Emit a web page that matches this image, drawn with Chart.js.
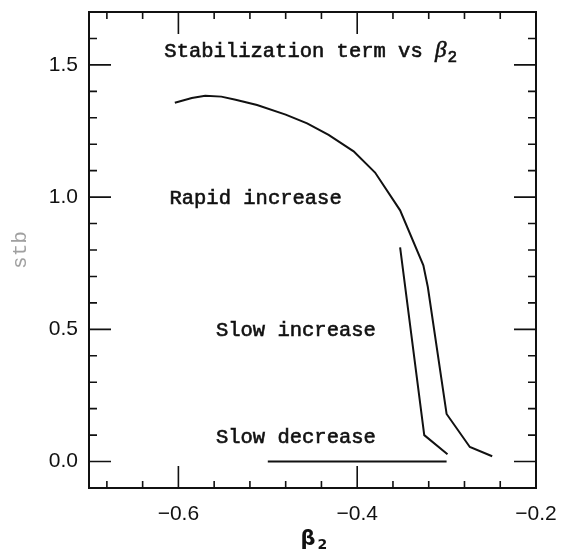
<!DOCTYPE html>
<html>
<head>
<meta charset="utf-8">
<script src="https://cdn.jsdelivr.net/npm/chart.js@4.4.1/dist/chart.umd.min.js"></script>
<style>
  html, body { margin: 0; padding: 0; background: #fff; }
  #wrap { width: 562px; height: 551px; position: relative; }
</style>
</head>
<body>
<div id="wrap"><canvas id="c" width="562" height="551"></canvas></div>
<script>
// stabilization term vs beta2 — three branches
const RAPID_X = [-0.604, -0.585, -0.570, -0.552, -0.536, -0.512, -0.480, -0.456, -0.432, -0.404, -0.380, -0.352, -0.326, -0.321, -0.300, -0.274, -0.249];
const RAPID_Y = [1.357, 1.375, 1.383, 1.380, 1.368, 1.348, 1.312, 1.279, 1.235, 1.173, 1.093, 0.950, 0.742, 0.660, 0.180, 0.055, 0.020];
const SLOW_INC_X = [-0.352, -0.325, -0.299];
const SLOW_INC_Y = [0.810, 0.100, 0.028];
const SLOW_DEC_X = [-0.500, -0.300];
const SLOW_DEC_Y = [0.000, 0.000];

const X_TICKS = [-0.68, -0.64, -0.6, -0.56, -0.52, -0.48, -0.44, -0.4, -0.36, -0.32, -0.28, -0.24, -0.2];
const X_LABELED = [-0.6, -0.4, -0.2];
const Y_TICKS = [0, 0.1, 0.2, 0.3, 0.4, 0.5, 0.6, 0.7, 0.8, 0.9, 1.0, 1.1, 1.2, 1.3, 1.4, 1.5, 1.6];
const Y_LABELED = [0, 0.5, 1.0, 1.5];

// in-plot text, anchored in data units (left edge, baseline)
const NOTES = [
  { text: "Rapid increase", x: -0.610, y: 0.973 },
  { text: "Slow increase", x: -0.558, y: 0.473 },
  { text: "Slow decrease", x: -0.558, y: 0.072 },
];

const INK = "#111";
const MONO = '"Liberation Mono", "DejaVu Sans Mono", monospace';
const SANS = '"Liberation Sans", Arial, sans-serif';

function pts(xs, ys) { return xs.map((x, i) => ({ x: x, y: ys[i] })); }
function isLabeled(list, v) { return list.some((t) => Math.abs(t - v) < 1e-6); }

// typewriter-ish text: regular face, thickened a little with a thin stroke
function inkText(ctx, s, x, y) {
  ctx.fillText(s, x, y);
  ctx.strokeText(s, x, y);
}

const frameAndText = {
  id: "frameAndText",
  afterDatasetsDraw(chart) {
    const ctx = chart.ctx;
    const a = chart.chartArea;
    const xs = chart.scales.x, ys = chart.scales.y;
    ctx.save();
    ctx.strokeStyle = INK;
    ctx.lineWidth = 2;
    ctx.strokeRect(a.left, a.top, a.right - a.left, a.bottom - a.top);

    ctx.lineWidth = 1.6;
    ctx.beginPath();
    X_TICKS.forEach((v) => {
      const px = xs.getPixelForValue(v);
      const len = isLabeled(X_LABELED, v) ? 22 : 7;
      ctx.moveTo(px, a.bottom); ctx.lineTo(px, a.bottom - len);
      ctx.moveTo(px, a.top); ctx.lineTo(px, a.top + len);
    });
    Y_TICKS.forEach((v) => {
      const py = ys.getPixelForValue(v);
      const len = isLabeled(Y_LABELED, v) ? 22 : 8;
      ctx.moveTo(a.left, py); ctx.lineTo(a.left + len, py);
      ctx.moveTo(a.right, py); ctx.lineTo(a.right - len, py);
    });
    ctx.stroke();

    ctx.fillStyle = INK;
    ctx.lineWidth = 0.6;
    ctx.textBaseline = "alphabetic";
    ctx.textAlign = "left";
    ctx.font = "20.5px " + MONO;
    NOTES.forEach((n) => {
      inkText(ctx, n.text, xs.getPixelForValue(n.x), ys.getPixelForValue(n.y));
    });

    // title inside the frame
    let tx = xs.getPixelForValue(-0.6157), ty = ys.getPixelForValue(1.530);
    const head = "Stabilization term vs ";
    inkText(ctx, head, tx, ty);
    tx += ctx.measureText(head).width;
    ctx.font = 'italic 23px "Liberation Serif", serif';
    inkText(ctx, "\u03b2", tx, ty);
    tx += ctx.measureText("\u03b2").width + 1;
    ctx.font = "16px " + MONO;
    inkText(ctx, "2", tx, ty + 5);

    // x axis title
    ctx.font = 'bold 21px "DejaVu Sans", sans-serif';
    const bx = (a.left + a.right) / 2 - 12;
    ctx.fillText("\u03b2", bx, 545);
    const bw = ctx.measureText("\u03b2").width;
    ctx.font = 'bold 14px "DejaVu Sans", sans-serif';
    ctx.fillText("2", bx + bw + 2, 549);

    // y axis title
    ctx.translate(20, (a.top + a.bottom) / 2);
    ctx.rotate(-Math.PI / 2);
    ctx.textAlign = "center";
    ctx.textBaseline = "middle";
    ctx.fillStyle = "#a0a0a0";
    ctx.font = "21px " + MONO;
    ctx.fillText("stb", 0, 0);
    ctx.restore();
  },
};

const line = (data) => ({
  data: data, showLine: true, fill: false, pointRadius: 0,
  borderColor: INK, borderWidth: 2, tension: 0,
});

new Chart(document.getElementById("c"), {
  type: "scatter",
  data: {
    datasets: [
      line(pts(RAPID_X, RAPID_Y)),
      line(pts(SLOW_INC_X, SLOW_INC_Y)),
      line(pts(SLOW_DEC_X, SLOW_DEC_Y)),
    ],
  },
  options: {
    responsive: false,
    animation: false,
    events: [],
    layout: { padding: { top: 12, right: 26, left: 0, bottom: 0 } },
    plugins: { legend: { display: false }, tooltip: { enabled: false } },
    scales: {
      x: {
        type: "linear", min: -0.7, max: -0.2,
        grid: { display: false, drawTicks: false },
        border: { display: false },
        afterBuildTicks: (s) => { s.ticks = X_TICKS.map((v) => ({ value: v })); },
        afterFit: (s) => { s.height = 63; s.paddingLeft = 0; s.paddingRight = 0; },
        ticks: {
          autoSkip: false, maxRotation: 0, padding: 14, color: INK,
          font: { family: SANS, size: 21 },
          callback: (v) => isLabeled(X_LABELED, v) ? "\u2212" + Math.abs(v).toFixed(1) : "",
        },
      },
      y: {
        type: "linear", min: -0.1, max: 1.7,
        grid: { display: false, drawTicks: false },
        border: { display: false },
        afterBuildTicks: (s) => { s.ticks = Y_TICKS.map((v) => ({ value: v })); },
        afterFit: (s) => { s.width = 89; s.paddingTop = 0; s.paddingBottom = 0; },
        ticks: {
          autoSkip: false, padding: 11, color: INK,
          font: { family: SANS, size: 21 },
          callback: (v) => isLabeled(Y_LABELED, v) ? v.toFixed(1) : "",
        },
      },
    },
  },
  plugins: [frameAndText],
});
</script>
</body>
</html>
